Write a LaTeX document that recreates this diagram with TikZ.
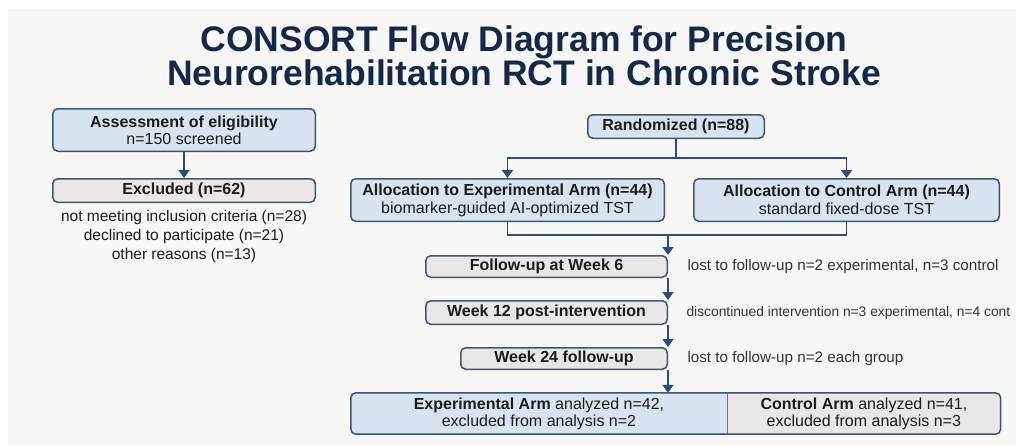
\documentclass[tikz,border=0pt]{standalone}
\usepackage{fontspec}
\setmainfont{Liberation Sans}
\usetikzlibrary{positioning,arrows.meta,backgrounds}
\definecolor{pagebg}{HTML}{F7F7F4}
\definecolor{navy}{HTML}{14284B}
\definecolor{edge}{HTML}{3D5573}
\definecolor{flow}{HTML}{2B4C7E}
\definecolor{bluebox}{HTML}{D7E3EE}
\definecolor{greybox}{HTML}{E9E6E3}
\definecolor{ink}{HTML}{1C1C1C}

\begin{document}
\begin{tikzpicture}[x=1pt,y=-1pt,text=ink,font=\fontsize{16}{17}\selectfont,
  >={Triangle[length=8pt,width=11pt]},
  info/.style={draw=edge,line width=1.5pt,rounded corners=5pt,fill=bluebox,align=center,inner sep=0pt},
  stage/.style={draw=edge,line width=1.5pt,rounded corners=5pt,fill=greybox,align=center,inner sep=0pt,font=\fontsize{16}{17}\selectfont\bfseries},
  note/.style={anchor=west,font=\fontsize{15.2}{17}\selectfont,text=ink!90},
  flowline/.style={draw=flow,line width=1.8pt}]
  \useasboundingbox (0,0) rectangle (1016,444);
  \begin{scope}[on background layer]
    \fill[pagebg] (8,9) rectangle (1016,444);
  \end{scope}

  % title
  \node[align=center,text=navy,font=\fontsize{35.5}{33}\selectfont\bfseries] (title) at (524,56) {CONSORT Flow Diagram for Precision\\Neurorehabilitation RCT in Chronic Stroke};

  % enrolment
  \node[info,minimum width=262.5pt,minimum height=42.5pt] (assess) at (184,130) {\textbf{Assessment of eligibility}\\n=150 screened};
  \node[stage,minimum width=262.5pt,minimum height=23.5pt] (excl) at (184,190.5) {Excluded (n=62)};
  \node[below=4pt of excl,align=center,font=\fontsize{15.5}{19}\selectfont] (reasons) {not meeting inclusion criteria (n=28)\\declined to participate (n=21)\\other reasons (n=13)};
  \draw[flowline,->] (assess) -- (excl);

  % allocation
  \node[info,minimum width=176.5pt,minimum height=23.5pt,font=\fontsize{16}{17}\selectfont\bfseries] (rand) at (676,126.5) {Randomized (n=88)};
  \node[info,minimum width=313.5pt,minimum height=42.5pt,font=\fontsize{16}{18}\selectfont] (allocexp) at (507.5,200) {\textbf{Allocation to Experimental Arm (n=44)}\\biomarker-guided AI-optimized TST};
  \node[info,minimum width=305.5pt,minimum height=42.5pt,font=\fontsize{16}{18}\selectfont] (allocctl) at (846.5,200) {\textbf{Allocation to Control Arm (n=44)}\\standard fixed-dose TST};
  \coordinate (split) at (676,158);
  \draw[flowline] (rand) -- (split);
  \draw[flowline,->] (split) -| (allocexp.north);
  \draw[flowline,->] (split) -| (allocctl.north);

  % follow-up
  \node[stage,minimum width=241.5pt,minimum height=21.5pt] (fu6) at (546.5,266.5) {Follow-up at Week 6};
  \node[stage,minimum width=241.5pt,minimum height=23.5pt] (w12) at (546.5,312.5) {Week 12 post-intervention};
  \node[stage,minimum width=206.5pt,minimum height=21.5pt] (w24) at (564,358.5) {Week 24 follow-up};
  \node[note] (lost6) at ([xshift=16pt]fu6.east) {lost to follow-up n=2 experimental, n=3 control};
  \node[note,font=\fontsize{13.8}{17}\selectfont] (disc12) at ([xshift=15pt]w12.east) {discontinued intervention n=3 experimental, n=4 cont};
  \node[note] (lost24) at ([xshift=16pt]w24.east) {lost to follow-up n=2 each group};
  \coordinate (merge) at (668,235);
  \draw[flowline] (allocexp.south) |- (allocctl.south |- merge) -- (allocctl.south);
  \draw[flowline,->] (merge) -- (fu6.north east);
  \draw[flowline,->] (fu6.south east) -- (w12.north east);
  \draw[flowline,->] (w12.south east) -- (w24.north east);

  % analysis
  \node[minimum width=376pt,minimum height=41pt,inner sep=0pt,align=center] (anexp) at (539,413.5) {\textbf{Experimental Arm} analyzed n=42,\\excluded from analysis n=2};
  \node[right=0pt of anexp,minimum width=273pt,minimum height=41pt,inner sep=0pt,align=center] (anctl) {\textbf{Control Arm} analyzed n=41,\\excluded from analysis n=3};
  \begin{scope}[on background layer]
    \clip[rounded corners=5pt] (anexp.north west) rectangle (anctl.south east);
    \fill[bluebox] (anexp.north west) rectangle (anexp.south east);
    \fill[greybox] (anctl.north west) rectangle (anctl.south east);
  \end{scope}
  \draw[edge,line width=1.5pt,rounded corners=5pt] (anexp.north west) rectangle (anctl.south east);
  \draw[edge!80,line width=1pt] (anexp.north east) -- (anexp.south east);
  \draw[flowline,->] (w24.south east) -- (w24.south east |- anexp.north);
\end{tikzpicture}
\end{document}
